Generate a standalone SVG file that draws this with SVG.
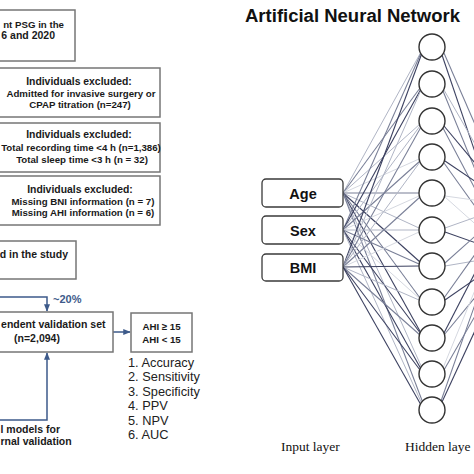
<svg xmlns="http://www.w3.org/2000/svg" width="474" height="474" viewBox="0 0 474 474">
<defs>
<style>
.box{fill:#fff;stroke:#767676;stroke-width:1.5}
.t{font-family:"Liberation Sans",Arial,sans-serif;font-weight:bold;font-size:9.7px;fill:#1a1a1a}
.h{font-size:10.4px}
.b{font-size:10.5px}
.lst{font-family:"Liberation Sans",Arial,sans-serif;font-size:12.8px;fill:#222}
.blue{stroke:#3d5a8a;stroke-width:1.5;fill:none}
.inp{fill:#fff;stroke:#3a3a3a;stroke-width:1.3}
.it{font-family:"Liberation Sans",Arial,sans-serif;font-weight:bold;font-size:14.5px;fill:#111;text-anchor:middle}
.hn{fill:#fff;stroke:#333;stroke-width:1.4}
.cap{font-family:"Liberation Serif","Times New Roman",serif;font-size:13.5px;fill:#111}
.d{stroke:#3c4160;stroke-width:1.1}
.m{stroke:#787e96;stroke-width:1.05}
.l{stroke:#b0b5c5;stroke-width:1}
.x{stroke:#d5d8e0;stroke-width:1}
</style>
<marker id="ah" viewBox="0 0 10 10" refX="9" refY="5" markerWidth="5" markerHeight="5" orient="auto-start-reverse">
<path d="M0,1 L10,5 L0,9 z" fill="#3d5a8a"/>
</marker>
</defs>
<rect width="474" height="474" fill="#fff"/>

<g id="connectors">
<path class="blue" d="M-2,297 H47 V311" marker-end="url(#ah)"/>
<path class="blue" d="M113,332 H130" marker-end="url(#ah)"/>
<path class="blue" d="M-2,420 H47 V353" marker-end="url(#ah)"/>
<text x="53" y="303" font-family="Liberation Sans,Arial,sans-serif" font-weight="bold" font-size="11" fill="#3d5a8a">~20%</text>
</g>

<g id="box-psg">
<rect class="box" x="-4" y="10" width="79" height="51"/>
<text class="t" x="64" y="28" text-anchor="end" font-size="10">nt PSG in the</text>
<text class="t b" x="55" y="39" text-anchor="end">6 and 2020</text>
</g>
<g id="box-excl1">
<rect class="box" x="-4" y="68" width="164" height="49"/>
<text class="t h" x="79" y="85" text-anchor="middle">Individuals excluded:</text>
<text class="t" x="81" y="97" text-anchor="middle">Admitted for invasive surgery or</text>
<text class="t" x="80" y="108" text-anchor="middle">CPAP titration (n=247)</text>
</g>
<g id="box-excl2">
<rect class="box" x="-4" y="123" width="164" height="49"/>
<text class="t h" x="79" y="138" text-anchor="middle">Individuals excluded:</text>
<text class="t" x="81" y="151" text-anchor="middle">Total recording time &lt;4 h (n=1,386)</text>
<text class="t" x="82" y="163" text-anchor="middle">Total sleep time &lt;3 h (n = 32)</text>
</g>
<g id="box-excl3">
<rect class="box" x="-4" y="176" width="164" height="49"/>
<text class="t h" x="80" y="193" text-anchor="middle">Individuals excluded:</text>
<text class="t" x="83" y="205" text-anchor="middle">Missing BNI information (n = 7)</text>
<text class="t" x="83" y="216" text-anchor="middle">Missing AHI information (n = 6)</text>
</g>
<g id="box-study">
<rect class="box" x="-4" y="241" width="80" height="38"/>
<text class="t b" x="68" y="258" text-anchor="end">d in the study</text>
</g>
<g id="box-validation">
<rect class="box" x="-4" y="312" width="117" height="40"/>
<text class="t b" x="105.5" y="328" text-anchor="end">endent validation set</text>
<text class="t b" x="37" y="342" text-anchor="middle">(n=2,094)</text>
</g>
<g id="box-ahi">
<rect class="box" x="131" y="313" width="61" height="39"/>
<text class="t" x="161.5" y="330" text-anchor="middle" font-size="10.8">AHI ≥ 15</text>
<text class="t" x="161.5" y="343" text-anchor="middle" font-size="10.8">AHI &lt; 15</text>
</g>
<g id="metrics">
<text class="lst" x="128" y="367">1. Accuracy</text>
<text class="lst" x="128" y="381">2. Sensitivity</text>
<text class="lst" x="128" y="396">3. Specificity</text>
<text class="lst" x="128" y="410">4. PPV</text>
<text class="lst" x="128" y="425">5. NPV</text>
<text class="lst" x="128" y="439">6. AUC</text>
</g>
<g id="final-models">
<text class="t b" x="0.5" y="433">l models for</text>
<text class="t b" x="0.5" y="445">rnal validation</text>
</g>

<text x="245" y="22" font-family="Liberation Sans,Arial,sans-serif" font-weight="bold" font-size="18" fill="#111" textLength="215" lengthAdjust="spacingAndGlyphs">Artificial Neural Network</text>

<g id="nn-connectors">
<line class="l" x1="343" y1="193" x2="421" y2="52"/>
<line class="m" x1="343" y1="193" x2="420" y2="88"/>
<line class="l" x1="343" y1="193" x2="420" y2="124"/>
<line class="x" x1="343" y1="193" x2="419" y2="159"/>
<line class="m" x1="343" y1="193" x2="419" y2="193"/>
<line class="l" x1="343" y1="193" x2="419" y2="228"/>
<line class="d" x1="343" y1="193" x2="420" y2="262"/>
<line class="m" x1="343" y1="193" x2="420" y2="298"/>
<line class="d" x1="343" y1="193" x2="421" y2="333"/>
<line class="l" x1="343" y1="193" x2="422" y2="368"/>
<line class="m" x1="343" y1="193" x2="423" y2="403"/>

<line class="m" x1="343" y1="230" x2="421" y2="53"/>
<line class="d" x1="343" y1="230" x2="421" y2="89"/>
<line class="l" x1="343" y1="230" x2="420" y2="126"/>
<line class="m" x1="343" y1="230" x2="420" y2="161"/>
<line class="x" x1="343" y1="230" x2="419" y2="196"/>
<line class="l" x1="343" y1="230" x2="419" y2="230"/>
<line class="m" x1="343" y1="230" x2="419" y2="264"/>
<line class="x" x1="343" y1="230" x2="420" y2="299"/>
<line class="d" x1="343" y1="230" x2="421" y2="334"/>
<line class="d" x1="343" y1="230" x2="421" y2="369"/>
<line class="l" x1="343" y1="230" x2="422" y2="404"/>

<line class="d" x1="343" y1="267" x2="422" y2="53"/>
<line class="l" x1="343" y1="267" x2="421" y2="90"/>
<line class="m" x1="343" y1="267" x2="421" y2="127"/>
<line class="l" x1="343" y1="267" x2="420" y2="162"/>
<line class="m" x1="343" y1="267" x2="420" y2="197"/>
<line class="x" x1="343" y1="267" x2="419" y2="232"/>
<line class="d" x1="343" y1="267" x2="419" y2="266"/>
<line class="l" x1="343" y1="267" x2="419" y2="300"/>
<line class="m" x1="343" y1="267" x2="420" y2="335"/>
<line class="d" x1="343" y1="267" x2="420" y2="370"/>
<line class="d" x1="343" y1="267" x2="421" y2="405"/>

<line class="m" x1="444" y1="53" x2="510" y2="205"/>
<line class="d" x1="442" y1="55" x2="510" y2="255"/>
<line class="l" x1="444" y1="90" x2="510" y2="205"/>
<line class="m" x1="443" y1="91" x2="510" y2="255"/>
<line class="d" x1="444" y1="126" x2="510" y2="205"/>
<line class="m" x1="443" y1="128" x2="510" y2="255"/>
<line class="d" x1="445" y1="161" x2="510" y2="205"/>
<line class="m" x1="444" y1="163" x2="510" y2="255"/>
<line class="x" x1="445" y1="196" x2="510" y2="205"/>
<line class="x" x1="445" y1="197" x2="510" y2="255"/>
<line class="l" x1="445" y1="228" x2="510" y2="205"/>
<line class="d" x1="445" y1="232" x2="510" y2="255"/>
<line class="m" x1="445" y1="263" x2="510" y2="205"/>
<line class="l" x1="445" y1="266" x2="510" y2="255"/>
<line class="m" x1="444" y1="298" x2="510" y2="205"/>
<line class="d" x1="445" y1="300" x2="510" y2="255"/>
<line class="d" x1="444" y1="333" x2="510" y2="205"/>
<line class="m" x1="444" y1="335" x2="510" y2="255"/>
<line class="x" x1="443" y1="368" x2="510" y2="205"/>
<line class="m" x1="444" y1="370" x2="510" y2="255"/>
<line class="m" x1="441" y1="401" x2="510" y2="205"/>
<line class="d" x1="442" y1="402" x2="510" y2="255"/>
</g>

<g id="input-age"><rect class="inp" x="262" y="179" width="81" height="28" rx="4"/><text class="it" x="303" y="199">Age</text></g>
<g id="input-sex"><rect class="inp" x="262" y="216" width="81" height="28" rx="4"/><text class="it" x="303" y="236">Sex</text></g>
<g id="input-bmi"><rect class="inp" x="262" y="254" width="81" height="27" rx="4"/><text class="it" x="303" y="273">BMI</text></g>

<g id="hidden-1"><circle class="hn" cx="432" cy="47" r="13"/></g>
<g id="hidden-2"><circle class="hn" cx="432" cy="84" r="13"/></g>
<g id="hidden-3"><circle class="hn" cx="432" cy="121" r="13"/></g>
<g id="hidden-4"><circle class="hn" cx="432" cy="157" r="13"/></g>
<g id="hidden-5"><circle class="hn" cx="432" cy="193" r="13"/></g>
<g id="hidden-6"><circle class="hn" cx="432" cy="230" r="13"/></g>
<g id="hidden-7"><circle class="hn" cx="432" cy="266" r="13"/></g>
<g id="hidden-8"><circle class="hn" cx="432" cy="302" r="13"/></g>
<g id="hidden-9"><circle class="hn" cx="432" cy="338" r="13"/></g>
<g id="hidden-10"><circle class="hn" cx="432" cy="374" r="13"/></g>
<g id="hidden-11"><circle class="hn" cx="432" cy="410" r="13"/></g>

<text class="cap" x="281" y="451">Input layer</text>
<text class="cap" x="405" y="451">Hidden laye</text>
</svg>
